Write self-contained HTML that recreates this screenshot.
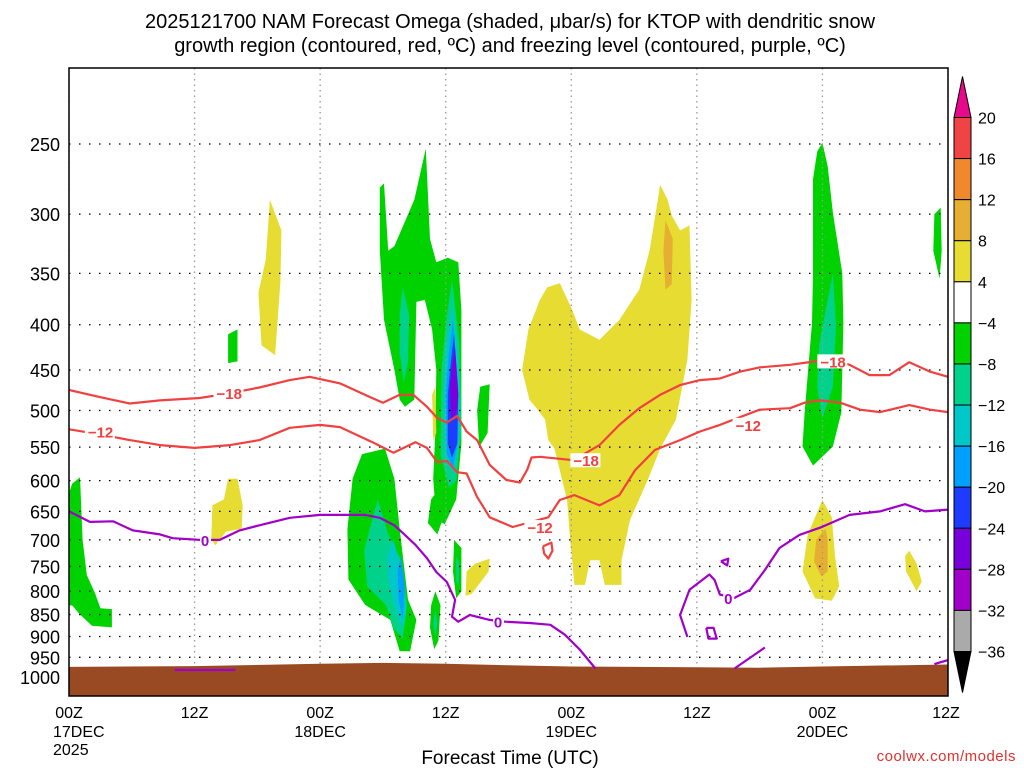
<!DOCTYPE html>
<html><head><meta charset="utf-8"><style>
html,body{margin:0;padding:0;background:#fff;}
svg{display:block;font-family:"Liberation Sans",sans-serif;}
</style></head><body>
<svg id="chart" width="1024" height="768" viewBox="0 0 1024 768" xmlns="http://www.w3.org/2000/svg">
<text x="510" y="28" font-size="20" text-anchor="middle">2025121700 NAM Forecast Omega (shaded, μbar/s) for KTOP with dendritic snow</text>
<text x="510" y="52" font-size="20" text-anchor="middle">growth region (contoured, red, ºC) and freezing level (contoured, purple, ºC)</text>
<g id="plot"></g>
<text x="510" y="764" font-size="19" text-anchor="middle">Forecast Time (UTC)</text>
<text x="1016" y="761" font-size="15" fill="#e03030" text-anchor="end" letter-spacing="0.5">coolwx.com/models</text>
</svg>
<script>
// ---- data ----
const pressureTicks = [250,300,350,400,450,500,550,600,650,700,750,800,850,900,950,1000];
const timeTicks = [0,12,24,36,48,60,72,84];
const timeLabels = ["00Z","12Z","00Z","12Z","00Z","12Z","00Z","12Z"];
const dateLabels = ["17DEC","","18DEC","","19DEC","","20DEC",""];
const cbLevels = [20,16,12,8,4,-4,-8,-12,-16,-20,-24,-28,-32,-36];
const cbColors = ["#f04444","#f0882c","#e6ae32","#e6dc32","#ffffff","#00d200","#00d28c","#00c8c8","#00a0ff","#1e3cff","#7800dc","#a000c8","#aaaaaa"];
const cbTopColor = "#e8088c";
const cbBottomColor = "#000000";
// omega polygons [hour, hPa]; level index into cbColors
const omegaLeftGreen = [[0,620],[0.3,605],[1.05,595],[1.3,700],[1.7,767],[2.5,805],[3.0,836],[4.1,838],[4.1,879],[2.2,875],[1.05,850],[0.3,830],[0,830]];
const omegaYellowTop1 = [[19.2,289],[20.3,313],[20.2,358],[19.7,433],[18.4,422],[18.1,368],[18.8,338]];
const omegaGreenSmall1 = [[15.2,410],[16.1,405],[16.1,440],[15.2,442]];
const omegaYellowSmall1 = [[15.2,597],[16.1,597],[16.6,640],[16.5,680],[15,685],[14,710],[13.6,700],[13.7,640],[14.8,630]];
const omegaCoreGreen = [[29.7,280],[30.1,277],[30.5,330],[31.1,326],[33.0,289],[34.1,253],[34.5,320],[35.1,340],[36.2,336],[37.2,340],[37.5,385],[37.5,545],[37.0,630],[35.9,672],[35.1,663],[34.8,597],[35.0,530],[35.1,450],[34.7,405],[34.0,375],[33.2,377],[33.0,486],[32.1,495],[31.6,486],[31.1,450],[30.1,395],[29.7,330]];
const omegaCoreTealLeft = [[31.9,363],[32.5,390],[32.4,440],[32.0,465],[31.6,430],[31.6,390]];
const omegaCoreTeal = [[36.6,356],[37.3,420],[37.5,520],[37.0,600],[36.3,611],[35.5,560],[35.6,450],[36.0,400]];
const omegaCoreCyan = [[36.6,380],[37.3,450],[37.3,540],[36.8,590],[36.0,570],[35.8,480],[36.1,420]];
const omegaCoreLtBlue = [[36.7,395],[37.2,470],[37.2,540],[36.7,580],[36.1,560],[36.0,480],[36.3,430]];
const omegaCoreBlue = [[36.8,410],[37.2,480],[37.1,545],[36.6,565],[36.2,545],[36.2,480],[36.5,440]];
const omegaCorePurple = [[36.9,425],[37.2,480],[37.0,505],[36.5,510],[36.4,470],[36.6,445]];
const omegaLowGreen = [[28.0,560],[30.2,552],[31.1,597],[31.6,681],[32.4,818],[33.2,862],[32.6,935],[31.6,935],[30.7,862],[28.3,829],[26.7,776],[26.6,681],[27.1,597]];
const omegaLowTeal = [[29.5,630],[30.5,690],[31.8,740],[32.3,830],[31.9,905],[31.0,880],[30.3,830],[28.5,790],[28.2,720]];
const omegaLowCyan = [[31.0,700],[31.8,760],[32.2,840],[31.8,880],[31.2,840],[30.5,780],[30.4,730]];
const omegaLowLtBlue = [[31.7,730],[32.1,790],[31.9,860],[31.5,820],[31.4,760]];
const omegaGreenG = [[35.0,800],[35.5,830],[35.3,910],[34.9,930],[34.5,880],[34.6,830]];
const omegaTealG = [[35.0,840],[35.2,870],[35.0,900],[34.8,870]];
const omegaGreenH = [[36.0,600],[36.2,640],[35.2,690],[34.3,670],[34.6,630]];
const omegaGreenI = [[36.8,700],[37.5,715],[37.5,800],[37.0,815],[36.7,760]];
const omegaTealI = [[37.0,730],[37.3,745],[37.2,790],[37.0,780]];
const omegaGreenK = [[39.3,470],[40.2,467],[40.0,530],[39.2,550],[39.0,500]];
const omegaYellowL = [[34.7,480],[35.0,470],[35.1,530],[34.8,540]];
const omegaYellowM = [[40.2,735],[40.1,760],[38.5,805],[37.9,810],[38.0,760],[38.8,745]];
const omegaYellowBig = [[45.7,363],[46.9,359],[48.1,385],[48.8,405],[50.7,416],[52.6,395],[54.5,365],[55.5,329],[56.5,278],[57.2,289],[57.6,301],[58.4,313],[59.3,309],[59.5,375],[59.1,438],[58.0,512],[56.5,552],[55.3,599],[53.6,665],[52.8,738],[52.8,787],[51.2,787],[50.7,738],[49.8,738],[49.3,787],[48.3,787],[47.9,700],[47.6,631],[46.9,584],[46.4,552],[45.8,540],[45.5,512],[44.8,499],[44.0,486],[43.3,450],[43.9,405],[45.0,375]];
const omegaGoldSmall = [[57.0,305],[57.7,320],[57.6,360],[57.0,365],[56.8,330]];
const omegaGreen20 = [[72.0,249],[72.5,265],[73.0,299],[73.9,350],[74.0,398],[73.8,503],[73.0,549],[71.1,577],[70.1,549],[70.3,503],[71.0,398],[71.1,350],[71.1,299],[71.1,274],[71.5,255]];
const omegaTeal20 = [[73.0,350],[73.3,400],[73.0,470],[72.0,510],[71.5,470],[71.7,420]];
const omegaYellow20 = [[72.0,631],[72.9,660],[73.2,730],[73.6,790],[72.9,820],[71.3,815],[70.1,760],[70.6,690]];
const omegaOrange20 = [[72.3,680],[72.5,700],[72.5,760],[71.9,770],[71.2,740],[71.4,700]];
const omegaYellowQ = [[80.3,720],[81.0,745],[81.5,780],[81.0,800],[80.0,760],[79.9,730]];
const omegaGreenR = [[83.3,295],[83.4,330],[83.2,355],[82.6,330],[82.7,300]];
const omegaLayers = [
 [omegaLeftGreen,5],[omegaYellowTop1,3],[omegaGreenSmall1,5],[omegaYellowSmall1,3],
 [omegaCoreGreen,5],[omegaCoreTealLeft,6],[omegaCoreTeal,6],[omegaCoreCyan,7],[omegaCoreLtBlue,8],[omegaCoreBlue,9],[omegaCorePurple,10],
 [omegaLowGreen,5],[omegaLowTeal,6],[omegaLowCyan,7],[omegaLowLtBlue,8],
 [omegaGreenG,5],[omegaTealG,6],[omegaGreenH,5],[omegaGreenI,5],[omegaTealI,6],[omegaGreenK,5],[omegaYellowL,3],[omegaYellowM,3],
 [omegaYellowBig,3],[omegaGoldSmall,2],[omegaGreen20,5],[omegaTeal20,6],[omegaYellow20,3],[omegaOrange20,2],[omegaYellowQ,3],[omegaGreenR,5]
];
// temperature contours
const iso18 = [[0,474],[3,483],[5.8,491],[8.7,487],[12.5,484],[15.4,478],[18.2,471],[21.1,462],[23,458],[25.9,466],[28.8,483],[30,490],[31.6,480],[32.9,480],[34.2,495],[35.2,510],[36.1,516],[37.1,507],[38,528],[39,540],[40.2,576],[41.8,599],[43.1,603],[43.8,583],[44.2,565],[45,564],[48.2,569],[50.7,547],[52.6,519],[54.5,497],[56.5,480],[58.4,468],[60.3,462],[62.2,460],[64.1,452],[66,447],[68.9,444],[71.3,440],[72.7,438],[74.6,444],[76.5,456],[78.4,456],[80.3,441],[82.3,452],[84,458]];
const iso12 = [[0,525],[3,532],[5.8,540],[8.7,547],[12,551],[15.4,547],[18.2,540],[21.1,523],[24,519],[25.9,522],[29,543],[31,558],[33.1,543],[34.2,551],[35.2,572],[36.1,570],[37.1,587],[38,589],[39,626],[40.2,660],[42.4,677],[45.8,660],[46.9,631],[48.3,623],[50.7,640],[52.6,623],[54.1,584],[56,554],[58.4,540],[60.3,528],[62.2,519],[66,499],[68.9,497],[70.3,490],[71.8,487],[73.7,490],[75.6,499],[77.5,502],[80.3,493],[82.3,499],[84,502]];
const iso12Small = [[45.3,712],[46.1,705],[46.2,720],[45.8,735],[45.4,725],[45.3,712]];
const iso0a = [[0,650],[2,668],[4.2,667],[6.1,683],[8.7,690],[9.9,697],[12.5,700],[14.4,700],[16.3,683],[18.2,674],[21.1,661],[24,656],[28.3,656],[29.7,661],[31.1,674],[32.1,691],[33.1,709],[34.2,734],[35.1,761],[36.1,781],[36.9,818],[36.6,855],[37.2,866],[38.3,851],[40.2,862],[41.7,866],[44,869],[46,873],[47.4,896],[48.8,931],[50.3,978]];
const iso0b = [[59.1,901],[58.4,851],[59.3,797],[61.2,766],[61.7,777],[62.2,807],[63.6,814],[65.1,797],[66.5,757],[67.9,715],[69.8,691],[71.8,678],[74.6,656],[77.5,650],[79.9,638],[81.8,650],[84,647]];
const iso0c = [[60.9,880],[61.6,880],[61.9,905],[61.1,905],[60.9,880]];
const iso0d = [[62.3,740],[63.0,735],[62.9,748],[62.3,740]];
const iso0e = [[63.6,978],[66.5,926]];
const iso0f = [[10.1,982],[15.9,982]];
const iso0g = [[82.7,967],[84,957]];
const tempLabels = [[1.8,"-12",0,528],[14.1,"-18",1,478],[48.2,"-18",1,569],[43.8,"-12",0,677],[63.7,"-12",0,519],[71.8,"-18",1,440]];
const zeroLabels = [[13,700],[41,866],[63,814]];
const terrain = [[0,974],[12,972],[24,966],[30,964],[36,966],[42,970],[48,973],[60,975],[66,976],[72,973],[84,968]];

// ---- axes ----
const X0=69,X1=948,Y0=68,Y1=696;
const xs = h => X0 + h*(X1-X0)/84;
const yp = p => 144 + 384.5*Math.log(p/250);
const NS="http://www.w3.org/2000/svg";
const plot=document.getElementById('plot');
const svg=document.getElementById('chart');
function mk(tag,attrs,parent){const e=document.createElementNS(NS,tag);for(const k in attrs)e.setAttribute(k,attrs[k]);(parent||plot).appendChild(e);return e;}
const pts = arr => arr.map(d=>xs(d[0]).toFixed(1)+","+yp(d[1]).toFixed(1)).join(" ");

const cp=mk('clipPath',{id:'pc'},svg);mk('rect',{x:X0,y:Y0,width:X1-X0,height:Y1-Y0},cp);
const g=mk('g',{'clip-path':'url(#pc)'});

omegaLayers.forEach(function(L,i){
  const e=mk('polygon',{points:pts(L[0]),fill:cbColors[L[1]]},g);
  
  
});
pressureTicks.forEach(function(p){
  const e=mk('line',{x1:X0,x2:X1,y1:yp(p),y2:yp(p),stroke:'#000','stroke-width':1.3,'stroke-dasharray':'1.5,8.5'},g);
  
  
});
timeTicks.forEach(function(t){
  const e=mk('line',{x1:xs(t),x2:xs(t),y1:Y0,y2:Y1,stroke:'#999','stroke-width':1.3,'stroke-dasharray':'1.5,4'},g);
  
  
});
{
  const tp=terrain.map(d=>xs(d[0]).toFixed(1)+","+yp(d[1]).toFixed(1)).join(" ")+" "+xs(84)+","+Y1+" "+xs(0)+","+Y1;
  const e=mk('polygon',{points:tp,fill:'#9a4a22'},g);
  
  
}
function line(arr,color,name){
  const e=mk('polyline',{points:pts(arr),fill:'none',stroke:color,'stroke-width':2.2,'stroke-linejoin':'round'},g);
  
  
}
line(iso18,'#f04040','isotherm-minus18');
line(iso12,'#f04040','isotherm-minus12');
line(iso12Small,'#f04040','isotherm-minus12-small');
[iso0a,iso0b,iso0c,iso0d,iso0e,iso0f,iso0g].forEach(function(a,i){line(a,'#a000c8','freezing-level-'+i);});
tempLabels.forEach(function(l){
  const x=xs(l[0]),y=yp(l[3]);
  mk('rect',{x:x-3,y:y-7,width:30,height:14,fill:'#fff'},g);
  const e=mk('text',{x:x,y:y+6,'font-size':15,'font-weight':'bold',fill:'#f04040'},g);
  e.textContent=l[1].replace('-','−');
  
  
});
zeroLabels.forEach(function(l){
  const x=xs(l[0]),y=yp(l[1]);
  mk('rect',{x:x-5,y:y-7,width:11,height:14,fill:'#fff'},g);
  const e=mk('text',{x:x,y:y+6,'font-size':15,'font-weight':'bold',fill:'#a000c8','text-anchor':'middle'},g);
  e.textContent='0';
  
  
});
{const e=mk('rect',{x:X0,y:Y0,width:X1-X0,height:Y1-Y0,fill:'none',stroke:'#000','stroke-width':1.5});
}
pressureTicks.forEach(function(p){
  const e=mk('text',{x:60,y:yp(p)+7,'font-size':18,'text-anchor':'end'});
  e.textContent=p;
  
  
});
timeTicks.forEach(function(t,i){
  const e=mk('text',{x:xs(t)+(i==7?-2:0),y:718,'font-size':16,'text-anchor':'middle'});
  e.textContent=timeLabels[i];
  
  
  if(dateLabels[i]){
    const d=mk('text',{x:xs(t)+(i==0?-16:0),y:737,'font-size':16,'text-anchor':i==0?'start':'middle'});
    d.textContent=dateLabels[i];
    
    
  }
});
{const e=mk('text',{x:53,y:755,'font-size':16});e.textContent='2025';
}
const CBX=954,CBW=17,CBT=117.5,CBB=651.5;
const step=(CBB-CBT)/(cbLevels.length-1);
{const e=mk('polygon',{points:`${CBX},${CBT} ${CBX+CBW},${CBT} ${CBX+CBW/2},${CBT-41}`,fill:cbTopColor,stroke:'#000'},svg);
}
{const e=mk('polygon',{points:`${CBX},${CBB} ${CBX+CBW},${CBB} ${CBX+CBW/2},${CBB+41}`,fill:cbBottomColor,stroke:'#000'},svg);
}
cbColors.forEach(function(c,i){
  const e=mk('rect',{x:CBX,y:CBT+i*step,width:CBW,height:step,fill:c,stroke:'#000','stroke-width':1},svg);
  
  
});
cbLevels.forEach(function(v,i){
  const e=mk('text',{x:978,y:CBT+i*step+6,'font-size':16},svg);
  e.textContent=v<0?'−'+(-v):String(v);
  
  
});
</script>
</body></html>
